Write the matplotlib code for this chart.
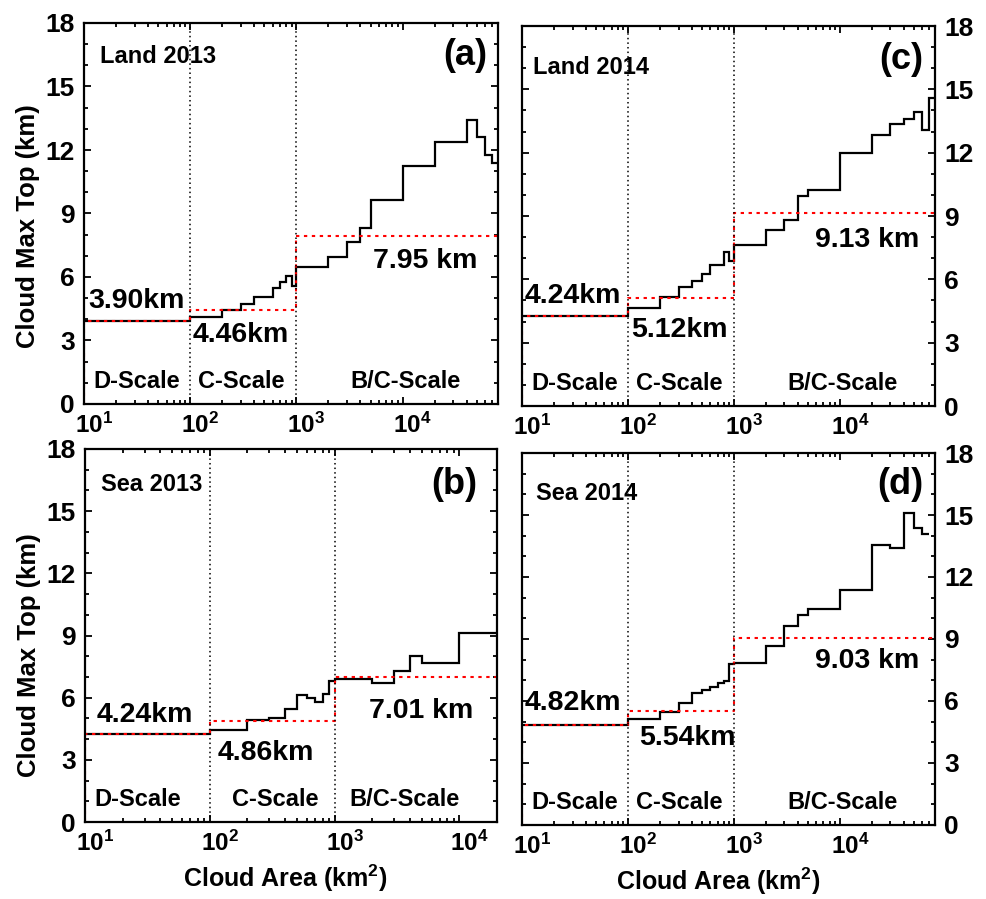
import numpy as np
import matplotlib
matplotlib.use("Agg")
import matplotlib.pyplot as plt
import matplotlib.transforms as mtransforms
from matplotlib.ticker import MultipleLocator, FixedLocator, LogLocator, NullFormatter

# ---- data (cloud area bins in km^2, max top in km) ----
land13_edges = [10, 100, 200, 300, 400, 600, 700, 800, 900, 1000, 2000, 3000,
                4000, 5000, 10000, 20000, 40000, 50000, 60000, 70000, 79000]
land13_top = [3.90, 4.11, 4.42, 4.74, 5.05, 5.49, 5.78, 6.03, 5.56, 6.46, 6.94,
              7.65, 8.30, 9.65, 11.23, 12.36, 13.40, 12.60, 11.78, 11.38]
land13_mean = [3.90, 4.46, 7.95]

sea13_edges = [10, 100, 200, 300, 400, 500, 600, 700, 800, 900, 1000, 2000,
               3000, 4000, 5000, 10000, 20000]
sea13_top = [4.24, 4.45, 4.93, 5.04, 5.44, 6.13, 6.00, 5.78, 6.18, 6.82, 6.89,
             6.73, 7.29, 8.01, 7.66, 9.10]
sea13_mean = [4.24, 4.86, 7.01]

land14_edges = [10, 100, 200, 300, 400, 500, 600, 800, 900, 1000, 2000, 3000,
                4000, 5000, 10000, 20000, 30000, 40000, 50000, 60000, 70000, 79000]
land14_top = [4.24, 4.62, 5.17, 5.63, 5.92, 6.23, 6.68, 7.28, 6.85, 7.63, 8.35,
              8.83, 9.97, 10.24, 11.98, 12.82, 13.34, 13.61, 13.92, 13.09, 14.59]
land14_mean = [4.24, 5.12, 9.13]

sea14_edges = [10, 100, 200, 300, 400, 500, 600, 700, 800, 900, 1000, 2000,
               3000, 4000, 5000, 10000, 20000, 30000, 40000, 50000, 60000, 70000]
sea14_top = [4.82, 5.12, 5.46, 5.89, 6.40, 6.51, 6.69, 6.85, 6.98, 7.78, 7.84,
             8.66, 9.65, 10.18, 10.45, 11.38, 13.57, 13.41, 15.09, 14.37, 14.08]
sea14_mean = [4.82, 5.54, 9.03]

scale_edges = [10, 100, 1000]
scale_names = ["D-Scale", "C-Scale", "B/C-Scale"]
yticks = [0, 3, 6, 9, 12, 15, 18]
xticks = [10, 100, 1000, 10000]

# ---- fonts ----
plt.rcParams["font.family"] = "Liberation Sans"
plt.rcParams["font.weight"] = "bold"
plt.rcParams["mathtext.fontset"] = "custom"
plt.rcParams["mathtext.rm"] = "Liberation Sans:bold"
plt.rcParams["mathtext.it"] = "Liberation Sans:bold"
plt.rcParams["mathtext.bf"] = "Liberation Sans:bold"

W, H = 986, 899
fig = plt.figure(figsize=(W / 100, H / 100), dpi=100)

# box = (left, top, right, bottom) in pixels; text spots in axes fraction
panels = [
    dict(box=(84, 23, 498, 404), edges=land13_edges, top=land13_top, mean=land13_mean,
         xmax=7.9e4, name="Land 2013", tag="(a)", right=False, xlabel=False,
         name_xy=(0.039, 0.895), tag_xy=(0.973, 0.916),
         val_xy=[(0.010, 0.252, "left"), (0.263, 0.163, "left"), (0.949, 0.357, "right")],
         scale_x=[0.022, 0.275, 0.643]),
    dict(box=(85, 449, 497, 822), edges=sea13_edges, top=sea13_top, mean=sea13_mean,
         xmax=2.0e4, name="Sea 2013", tag="(b)", right=False, xlabel=True,
         name_xy=(0.039, 0.887), tag_xy=(0.951, 0.906),
         val_xy=[(0.029, 0.268, "left"), (0.323, 0.166, "left"), (0.942, 0.279, "right")],
         scale_x=[0.022, 0.357, 0.641]),
    dict(box=(522, 26, 935, 406), edges=land14_edges, top=land14_top, mean=land14_mean,
         xmax=7.9e4, name="Land 2014", tag="(c)", right=True, xlabel=False,
         name_xy=(0.027, 0.874), tag_xy=(0.971, 0.913),
         val_xy=[(0.007, 0.271, "left"), (0.264, 0.182, "left"), (0.961, 0.418, "right")],
         scale_x=[0.022, 0.276, 0.642]),
    dict(box=(522, 453, 935, 825), edges=sea14_edges, top=sea14_top, mean=sea14_mean,
         xmax=7.9e4, name="Sea 2014", tag="(d)", right=True, xlabel=True,
         name_xy=(0.034, 0.874), tag_xy=(0.971, 0.914),
         val_xy=[(0.007, 0.309, "left"), (0.283, 0.215, "left"), (0.961, 0.422, "right")],
         scale_x=[0.022, 0.276, 0.642]),
]

shift = mtransforms.ScaledTranslation(10 / 100, 0, fig.dpi_scale_trans)

for p in panels:
    l, t, r, b = p["box"]
    ax = fig.add_axes([l / W, 1 - b / H, (r - l) / W, (b - t) / H])
    ax.set_xscale("log")
    ax.set_xlim(10, p["xmax"])
    ax.set_ylim(0, 18)

    # black step curve
    ax.stairs(p["top"], p["edges"], baseline=None, color="black", lw=1.6)

    # red scale means (starts from the bottom at the left edge)
    red_x = np.r_[scale_edges[0], scale_edges, p["xmax"]]
    red_y = np.r_[0, p["mean"], p["mean"][-1]]
    ax.plot(red_x, red_y, drawstyle="steps-post", color="red", lw=1.5,
            dashes=(1.6, 2.2))

    for xv in scale_edges[1:]:
        ax.axvline(xv, color="black", lw=1.1, ls=(0, (1, 2)))

    # ticks
    ax.yaxis.set_major_locator(FixedLocator(yticks))
    ax.yaxis.set_minor_locator(MultipleLocator(1))
    ax.xaxis.set_major_locator(FixedLocator(xticks))
    ax.xaxis.set_minor_locator(LogLocator(base=10, subs=np.arange(2, 10)))
    ax.xaxis.set_minor_formatter(NullFormatter())
    ax.set_xticklabels(["$10^{%d}$" % k for k in range(1, 5)])
    ax.tick_params(which="both", direction="in", top=True, bottom=True,
                   left=True, right=True, width=1.3)
    ax.tick_params(which="major", length=5)
    ax.tick_params(which="minor", length=2.8)
    ax.tick_params(axis="x", labelsize=17.5, pad=6.5)
    ax.tick_params(axis="y", labelsize=19, pad=6.5,
                   labelleft=not p["right"], labelright=p["right"])
    for lab in ax.get_xticklabels():
        lab.set_transform(lab.get_transform() + shift)
    for s in ax.spines.values():
        s.set_linewidth(1.6)

    # texts
    ax.text(*p["name_xy"], p["name"], transform=ax.transAxes, fontsize=17,
            fontweight="bold", ha="left", va="baseline")
    ax.text(*p["tag_xy"], p["tag"], transform=ax.transAxes, fontsize=26,
            fontweight="bold", ha="right", va="center")
    for i, (xf, yf, ha) in enumerate(p["val_xy"]):
        unit = " km" if i == 2 else "km"
        ax.text(xf, yf, "%.2f%s" % (p["mean"][i], unit), transform=ax.transAxes,
                fontsize=20.5, fontweight="bold", ha=ha, va="baseline")
    for xf, nm in zip(p["scale_x"], scale_names):
        ax.text(xf, 0.043, nm, transform=ax.transAxes, fontsize=17,
                fontweight="bold", ha="left", va="baseline")

    if not p["right"]:
        ax.set_ylabel("Cloud Max Top (km)", fontsize=18.5, fontweight="bold")
        ax.yaxis.set_label_coords(-0.106, 0.467 if not p["xlabel"] else 0.448)
    if p["xlabel"]:
        ax.set_xlabel("Cloud Area (km$^2$)", fontsize=18, fontweight="bold")
        ax.xaxis.set_label_coords(0.485 if not p["right"] else 0.475, -0.108)

fig.savefig("out.png", dpi=100)
